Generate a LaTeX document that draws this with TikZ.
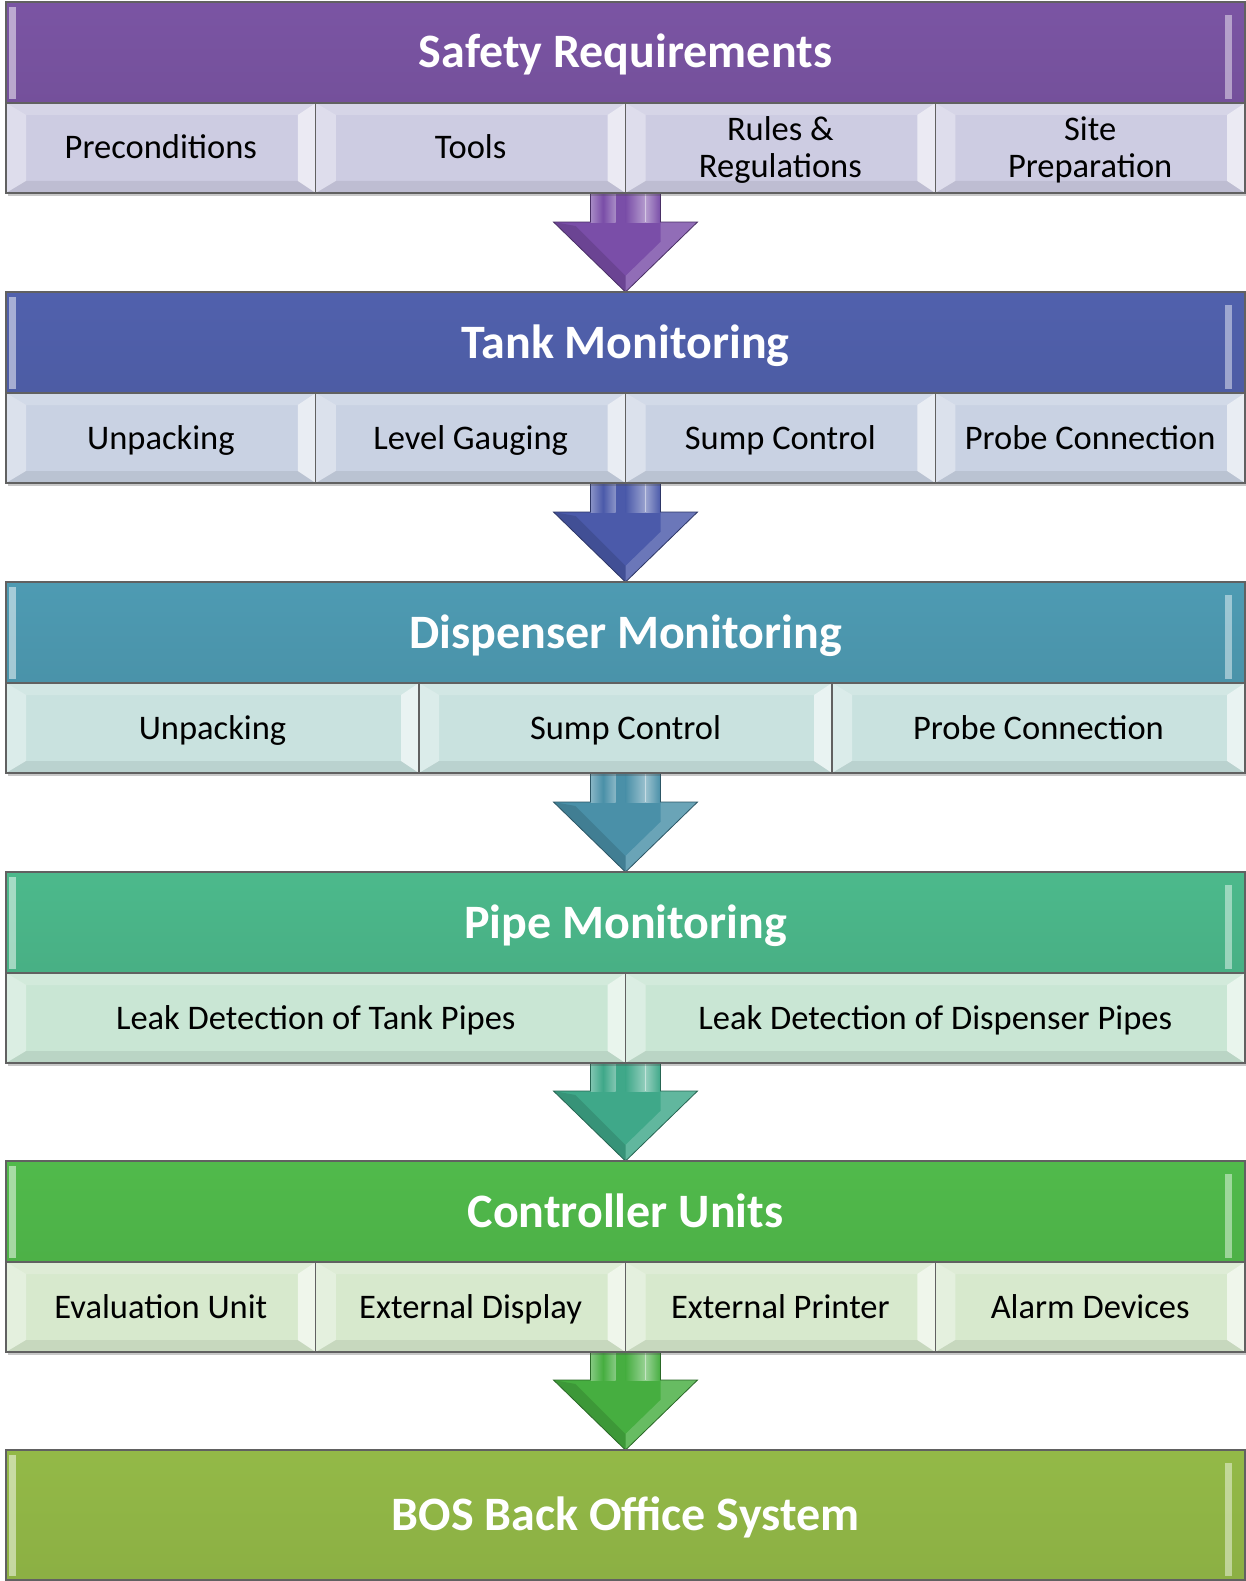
\documentclass[tikz,border=0pt]{standalone}
\usepackage{fontspec}
\setmainfont{Carlito}
\usetikzlibrary{calc,shadows,backgrounds}
\definecolor{cPurple}{HTML}{8159AC}
\definecolor{cLav}{HTML}{CDCCE2}
\definecolor{aPurple}{HTML}{7A4EA8}
\definecolor{cBlue}{HTML}{5566B6}
\definecolor{cBlueL}{HTML}{C9D2E3}
\definecolor{aBlue}{HTML}{4B5AAA}
\definecolor{cTeal}{HTML}{52A3BC}
\definecolor{cTealL}{HTML}{C9E2DF}
\definecolor{aTeal}{HTML}{4A90A8}
\definecolor{cSea}{HTML}{50C393}
\definecolor{cSeaL}{HTML}{C9E6D4}
\definecolor{aSea}{HTML}{3FA889}
\definecolor{cGreen}{HTML}{55C44F}
\definecolor{cGreenL}{HTML}{D7E9CD}
\definecolor{aGreen}{HTML}{46AE40}
\definecolor{cOlive}{HTML}{9BC34B}
\newcommand\bevelshapes{%
  \fill[white,opacity=.35] (path picture bounding box.north west) -- ([xshift=20pt,yshift=-12pt]path picture bounding box.north west) -- ([xshift=20pt,yshift=12pt]path picture bounding box.south west) -- (path picture bounding box.south west) -- cycle;
  \fill[white,opacity=.6] (path picture bounding box.north east) -- ([xshift=-18pt,yshift=-12pt]path picture bounding box.north east) -- ([xshift=-18pt,yshift=12pt]path picture bounding box.south east) -- (path picture bounding box.south east) -- cycle;
  \fill[white,opacity=.18] (path picture bounding box.north west) -- ([xshift=20pt,yshift=-12pt]path picture bounding box.north west) -- ([xshift=-18pt,yshift=-12pt]path picture bounding box.north east) -- (path picture bounding box.north east) -- cycle;
  \fill[black,opacity=.07] (path picture bounding box.south west) -- ([xshift=20pt,yshift=12pt]path picture bounding box.south west) -- ([xshift=-18pt,yshift=12pt]path picture bounding box.south east) -- (path picture bounding box.south east) -- cycle;
}
\newcommand\hdrshapes{%
  \fill[white,opacity=.5] ([xshift=3pt,yshift=-5pt]path picture bounding box.north west) rectangle ([xshift=10pt,yshift=4pt]path picture bounding box.south west);
  \fill[white,opacity=.45] ([xshift=-20pt,yshift=-13pt]path picture bounding box.north east) rectangle ([xshift=-13pt,yshift=4pt]path picture bounding box.south east);
}
\tikzset{
  boxbase/.style={rectangle, inner sep=0pt, outer sep=0pt, draw=black!62, line width=1.4pt, anchor=north west,
    drop shadow={shadow xshift=1.5pt, shadow yshift=-3pt, opacity=0.3, fill=black!70}},
  hdr/.style={boxbase, minimum width=1239pt, minimum height=101pt, text=white,
    font=\fontsize{48}{52}\selectfont\bfseries, text height=31pt, text depth=0pt,
    top color=#1!95!black, middle color=#1!97!white, bottom color=#1!90!black,
    path picture={\hdrshapes}},
  sub/.style={boxbase, fill=#1, minimum height=90pt, text=black, align=center,
    font=\fontsize{34.5}{37}\selectfont, text height=22pt, text depth=0pt, path picture={\bevelshapes}},
  twoline/.style={text height=59pt},
}
\newcommand\flowarrow[3]{%
  \fill[#3] ($(#1)+(-35,-8)$) -- ($(#2)+(-35,-70)$) -- ($(#2)+(-72,-70)$) -- (#2) -- ($(#2)+(72,-70)$) -- ($(#2)+(35,-70)$) -- ($(#1)+(35,-8)$) -- cycle;
  \shade[left color=white, right color=white, middle color=#3, opacity=.35] ($(#1)+(-35,-8)$) rectangle ($(#2)+(-10,-70)$);
  \shade[left color=#3, right color=white, opacity=.45] ($(#1)+(0,-8)$) rectangle ($(#2)+(20,-70)$);
  \shade[left color=white, right color=#3, opacity=.45] ($(#1)+(20,-8)$) rectangle ($(#2)+(35,-70)$);
  \fill[white,opacity=.18] ($(#2)+(35,-70)$) -- ($(#2)+(72,-70)$) -- (#2) -- ($(#2)+(0,-16)$) -- ($(#2)+(35,-50)$) -- cycle;
  \fill[black,opacity=.12] ($(#2)+(-72,-70)$) -- (#2) -- ($(#2)+(0,-16)$) -- ($(#2)+(-50,-66)$) -- cycle;
  \draw[#3!60!black, line width=0.8pt, line join=miter] ($(#1)+(-35,-8)$) -- ($(#2)+(-35,-70)$) -- ($(#2)+(-72,-70)$) -- (#2) -- ($(#2)+(72,-70)$) -- ($(#2)+(35,-70)$) -- ($(#1)+(35,-8)$);
}
\begin{document}
\begin{tikzpicture}[x=1pt,y=-1pt]
\useasboundingbox (0,0) rectangle (1246,1581);
% Stage 1
\node[hdr=cPurple] (h1) at (6,2) {Safety Requirements};
\node[sub=cLav, minimum width=309.75pt] (s1a) at (6,103) {Preconditions};
\node[sub=cLav, minimum width=309.75pt] (s1b) at (315.75,103) {Tools};
\node[sub=cLav, twoline, minimum width=309.75pt] (s1c) at (625.5,103) {Rules \&\\Regulations};
\node[sub=cLav, twoline, minimum width=309.75pt] (s1d) at (935.25,103) {Site\\Preparation};
% Stage 2
\node[hdr=cBlue] (h2) at (6,292) {Tank Monitoring};
\node[sub=cBlueL, minimum width=309.75pt] (s2a) at (6,393) {Unpacking};
\node[sub=cBlueL, minimum width=309.75pt] (s2b) at (315.75,393) {Level Gauging};
\node[sub=cBlueL, minimum width=309.75pt] (s2c) at (625.5,393) {Sump Control};
\node[sub=cBlueL, minimum width=309.75pt] (s2d) at (935.25,393) {Probe Connection};
% Stage 3
\node[hdr=cTeal] (h3) at (6,582) {Dispenser Monitoring};
\node[sub=cTealL, minimum width=413pt] (s3a) at (6,683) {Unpacking};
\node[sub=cTealL, minimum width=413pt] (s3b) at (419,683) {Sump Control};
\node[sub=cTealL, minimum width=413pt] (s3c) at (832,683) {Probe Connection};
% Stage 4
\node[hdr=cSea] (h4) at (6,872) {Pipe Monitoring};
\node[sub=cSeaL, minimum width=619.5pt] (s4a) at (6,973) {Leak Detection of Tank Pipes};
\node[sub=cSeaL, minimum width=619.5pt] (s4b) at (625.5,973) {Leak Detection of Dispenser Pipes};
% Stage 5
\node[hdr=cGreen] (h5) at (6,1161) {Controller Units};
\node[sub=cGreenL, minimum width=309.75pt] (s5a) at (6,1262) {Evaluation Unit};
\node[sub=cGreenL, minimum width=309.75pt] (s5b) at (315.75,1262) {External Display};
\node[sub=cGreenL, minimum width=309.75pt] (s5c) at (625.5,1262) {External Printer};
\node[sub=cGreenL, minimum width=309.75pt] (s5d) at (935.25,1262) {Alarm Devices};
% Stage 6
\node[hdr=cOlive, minimum height=130pt] (h6) at (6,1450) {BOS Back Office System};
% arrow start points
\coordinate (a1) at (h1.north |- s1a.south);
\coordinate (a2) at (h2.north |- s2a.south);
\coordinate (a3) at (h3.north |- s3a.south);
\coordinate (a4) at (h4.north |- s4a.south);
\coordinate (a5) at (h5.north |- s5a.south);
\begin{scope}[on background layer]
\fill[white] (0,0) rectangle (1246,1581);
\flowarrow{a1}{h2.north}{aPurple}
\flowarrow{a2}{h3.north}{aBlue}
\flowarrow{a3}{h4.north}{aTeal}
\flowarrow{a4}{h5.north}{aSea}
\flowarrow{a5}{h6.north}{aGreen}
\end{scope}
\end{tikzpicture}
\end{document}
